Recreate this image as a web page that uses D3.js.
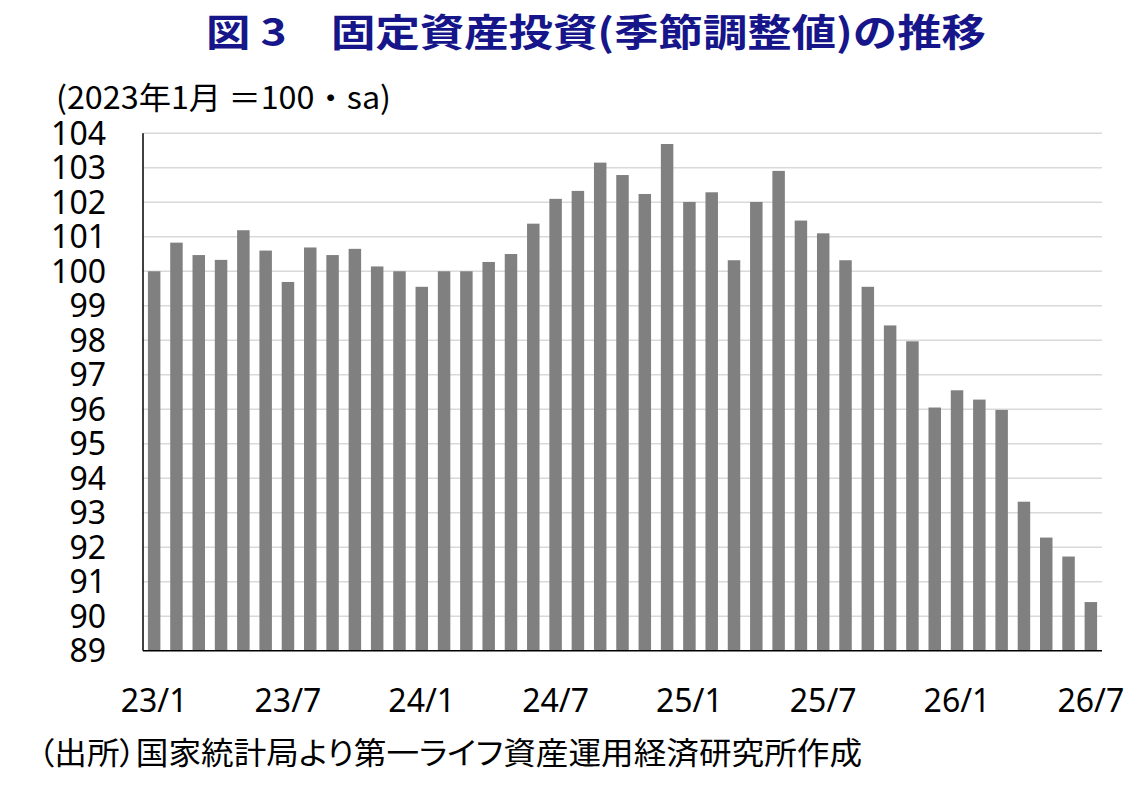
<!DOCTYPE html>
<html lang="ja">
<head>
  <meta charset="UTF-8"/>
  <title>固定資産投資(季節調整値)の推移</title>
  <script src="https://d3js.org/d3.v7.min.js"></script>
  <style>
body {
  margin: 0;
  background: #fff;
}

svg {
  display: block;
}

text {
  fill: #000;
}

text.title {
  font-family: 'Noto Sans CJK JP', sans-serif;
  font-weight: 700;
  font-size: 38px;
  fill: #16168a;
}

text.unit, text.source {
  font-family: 'Noto Sans CJK JP', sans-serif;
  font-size: 31px;
}

text.source {
  font-feature-settings: 'palt';
}

text.tick {
  font-family: 'Noto Sans', sans-serif;
  font-size: 32px;
}

.grid line {
  stroke: #d9d9d9;
  stroke-width: 1.5;
}

.bar {
  fill: #808080;
}

line.axis {
  stroke: #000;
  stroke-width: 1.5;
}
  </style>
</head>
<body>
  <svg width="1138" height="790"></svg>
  <script>
// months 2023/1 .. 2026/7
const months = [
  '23/1','23/2','23/3','23/4','23/5','23/6','23/7','23/8','23/9','23/10','23/11','23/12',
  '24/1','24/2','24/3','24/4','24/5','24/6','24/7','24/8','24/9','24/10','24/11','24/12',
  '25/1','25/2','25/3','25/4','25/5','25/6','25/7','25/8','25/9','25/10','25/11','25/12',
  '26/1','26/2','26/3','26/4','26/5','26/6','26/7'
]

// index, 2023/1 = 100, seasonally adjusted
const values = [
  100.0, 100.83, 100.47, 100.33, 101.19, 100.6, 99.69, 100.69, 100.47, 100.65, 100.14, 100.0,
  99.55, 100.0, 100.0, 100.27, 100.5, 101.38, 102.1, 102.33, 103.15, 102.79, 102.24, 103.69,
  102.01, 102.29, 100.32, 102.01, 102.91, 101.47, 101.1, 100.32, 99.55, 98.43, 97.97, 96.05,
  96.55, 96.28, 95.98, 93.32, 92.28, 91.73, 90.41
]

const xTickLabels = ['23/1', '23/7', '24/1', '24/7', '25/1', '25/7', '26/1', '26/7']
const yTicks = [89, 90, 91, 92, 93, 94, 95, 96, 97, 98, 99, 100, 101, 102, 103, 104]

const sample = months.map((m, i) => ({ month: m, value: values[i] }))

const svg = d3.select('svg')

const plotLeft = 143
const plotRight = 1102
const plotTop = 133.3
const plotBottom = 650.7

const xScale = d3.scaleBand()
  .range([plotLeft, plotRight])
  .domain(months)
  .paddingInner(0.44)
  .paddingOuter(0.22)

const yScale = d3.scaleLinear()
  .range([plotBottom, plotTop])
  .domain([d3.min(yTicks), d3.max(yTicks)])

// title
svg.append('text')
  .attr('class', 'title')
  .attr('x', 206)
  .attr('y', 46)
  .attr('textLength', 780)
  .attr('lengthAdjust', 'spacingAndGlyphs')
  .text('図 3　固定資産投資(季節調整値)の推移')

// unit
svg.append('text')
  .attr('class', 'unit')
  .attr('x', 56)
  .attr('y', 109)
  .attr('textLength', 335)
  .attr('lengthAdjust', 'spacingAndGlyphs')
  .text('(2023年1月 ＝100・sa)')

// horizontal grid
svg.append('g')
  .attr('class', 'grid')
  .selectAll('line')
  .data(yTicks.filter((t) => t > yScale.domain()[0]))
  .enter()
  .append('line')
  .attr('x1', plotLeft)
  .attr('x2', plotRight)
  .attr('y1', (t) => yScale(t))
  .attr('y2', (t) => yScale(t))

// bars
svg.append('g')
  .selectAll('rect')
  .data(sample)
  .enter()
  .append('rect')
  .attr('class', 'bar')
  .attr('x', (d) => xScale(d.month))
  .attr('y', (d) => yScale(d.value))
  .attr('width', xScale.bandwidth())
  .attr('height', (d) => yScale(yScale.domain()[0]) - yScale(d.value))

// axes lines
svg.append('line')
  .attr('class', 'axis')
  .attr('x1', plotLeft).attr('x2', plotLeft)
  .attr('y1', plotTop).attr('y2', plotBottom)

svg.append('line')
  .attr('class', 'axis')
  .attr('x1', plotLeft).attr('x2', plotRight)
  .attr('y1', plotBottom).attr('y2', plotBottom)

// y tick labels
svg.append('g')
  .selectAll('text')
  .data(yTicks)
  .enter()
  .append('text')
  .attr('class', 'tick')
  .attr('x', 106)
  .attr('y', (t) => yScale(t))
  .attr('dy', '0.36em')
  .attr('text-anchor', 'end')
  .text((t) => t)

// x tick labels
svg.append('g')
  .selectAll('text')
  .data(xTickLabels)
  .enter()
  .append('text')
  .attr('class', 'tick')
  .attr('x', (m) => xScale(m) + xScale.bandwidth() / 2)
  .attr('y', 712)
  .attr('text-anchor', 'middle')
  .text((m) => m)

// source
svg.append('text')
  .attr('class', 'source')
  .attr('x', 38)
  .attr('y', 764)
  .attr('textLength', 824)
  .attr('lengthAdjust', 'spacingAndGlyphs')
  .text('（出所）国家統計局より第一ライフ資産運用経済研究所作成')
  </script>
</body>
</html>
